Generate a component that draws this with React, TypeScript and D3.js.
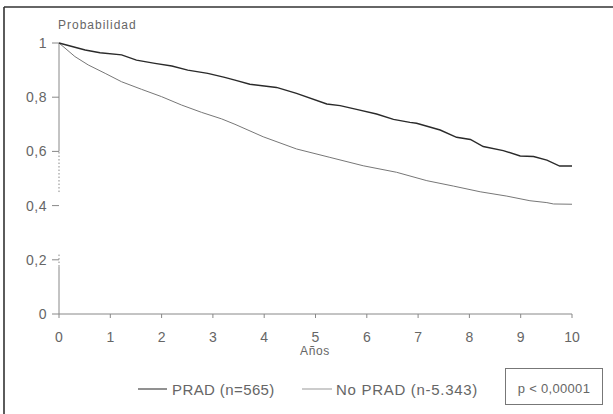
import * as d3 from "d3";

// Kaplan-Meier style survival
const pradYears = [0, 0.51, 0.8, 1.22, 1.51, 1.87, 2.2, 2.51, 2.9, 3.23, 3.43, 3.72, 4.24, 4.63, 5.22, 5.48, 5.8, 6.19, 6.52, 6.84, 6.97, 7.43, 7.75, 8.02, 8.27, 8.66, 8.99, 9.25, 9.51, 9.76, 10];
const pradProb = [1, 0.974, 0.964, 0.956, 0.937, 0.925, 0.915, 0.9, 0.888, 0.873, 0.863, 0.848, 0.836, 0.814, 0.775, 0.769, 0.755, 0.738, 0.718, 0.707, 0.704, 0.679, 0.652, 0.644, 0.618, 0.603, 0.583, 0.581, 0.568, 0.546, 0.546];

const noPradYears = [0, 0.31, 0.57, 0.9, 1.22, 1.61, 2.0, 2.39, 2.78, 3.17, 3.43, 3.98, 4.63, 5.28, 5.93, 6.58, 7.17, 7.69, 8.21, 8.73, 9.18, 9.51, 9.64, 10];
const noPradProb = [1, 0.95, 0.919, 0.888, 0.857, 0.829, 0.802, 0.771, 0.744, 0.72, 0.7, 0.654, 0.609, 0.578, 0.547, 0.523, 0.492, 0.472, 0.451, 0.435, 0.418, 0.411, 0.406, 0.405];

const xTicks = [0, 1, 2, 3, 4, 5, 6, 7, 8, 9, 10];
const yTicks = [0, 0.2, 0.4, 0.6, 0.8, 1];
const yTickLabels = ["0", "0,2", "0,4", "0,6", "0,8", "1"];

const legendLabels = ["PRAD (n=565)", "No PRAD (n-5.343)"];
const pText = "p < 0,00001";

const W = 613;
const H = 414;
const font = "'Liberation Sans', Arial, sans-serif";
const textColor = "#666";

export default function App() {
  const x = d3.scaleLinear().domain([0, 10]).range([59, 572]);
  const y = d3.scaleLinear().domain([0, 1]).range([314, 43]);

  const line = d3.line<[number, number]>()
    .x((d) => x(d[0]))
    .y((d) => y(d[1]));

  const pradPath = line(pradYears.map((t, i) => [t, pradProb[i]])) ?? "";
  const noPradPath = line(noPradYears.map((t, i) => [t, noPradProb[i]])) ?? "";

  // the scanned y axis is broken in places
  const yAxisParts: [number, number, string | undefined][] = [
    [0.6, 1, undefined],
    [0.45, 0.6, "1.5 2"],
    [0.175, 0.22, "1.5 2"],
    [0, 0.175, undefined],
  ];

  return (
    <svg width={W} height={H} style={{ position: "absolute", left: 0, top: 0 }}>
      <rect width={W} height={H} fill="white" />
      {/* frame */}
      <line x1={4} x2={4} y1={7} y2={H} stroke="#333" strokeWidth={1.6} />
      <line x1={4} x2={W} y1={7} y2={7} stroke="#333" strokeWidth={1.6} />

      <text x={58} y={29} fontFamily={font} fontSize={12} letterSpacing={1} fill={textColor}>Probabilidad</text>

      {/* y axis */}
      {yAxisParts.map(([a, b, dash], i) => (
        <line key={i} x1={x(0)} x2={x(0)} y1={y(a)} y2={y(b)} stroke="#888" strokeWidth={1} strokeDasharray={dash} />
      ))}
      {yTicks.map((t, i) => (
        <g key={t}>
          <line x1={x(0) - 7} x2={x(0)} y1={y(t)} y2={y(t)} stroke="#888" strokeWidth={1} />
          <text x={47} y={y(t) + 5} textAnchor="end" fontFamily={font} fontSize={14} letterSpacing={0.5} fill={textColor}>{yTickLabels[i]}</text>
        </g>
      ))}

      {/* x axis */}
      <line x1={x(0)} x2={x(10)} y1={y(0)} y2={y(0)} stroke="#888" strokeWidth={1} />
      {xTicks.map((t) => (
        <g key={t}>
          <line x1={x(t)} x2={x(t)} y1={y(0)} y2={y(0) + 4} stroke="#888" strokeWidth={1} />
          <text x={x(t)} y={342} textAnchor="middle" fontFamily={font} fontSize={14} fill={textColor}>{t}</text>
        </g>
      ))}
      <text x={315} y={355} textAnchor="middle" fontFamily={font} fontSize={12} letterSpacing={0.6} fill={textColor}>Años</text>

      {/* curves */}
      <path d={noPradPath} fill="none" stroke="#777" strokeWidth={1} />
      <path d={pradPath} fill="none" stroke="#2a2a2a" strokeWidth={1.4} />

      {/* legend */}
      <line x1={138} x2={167} y1={389} y2={389} stroke="#555" strokeWidth={1.3} />
      <text x={172} y={395} fontFamily={font} fontSize={15} letterSpacing={0.4} fill={textColor}>{legendLabels[0]}</text>
      <line x1={302} x2={332} y1={389} y2={389} stroke="#999" strokeWidth={1} />
      <text x={336} y={395} fontFamily={font} fontSize={15} letterSpacing={0.7} fill={textColor}>{legendLabels[1]}</text>

      <rect x={505.5} y={368.5} width={97} height={36} fill="none" stroke="#777" strokeWidth={1} />
      <text x={554} y={393} textAnchor="middle" fontFamily={font} fontSize={13} letterSpacing={0.3} fill={textColor}>{pText}</text>
    </svg>
  );
}
